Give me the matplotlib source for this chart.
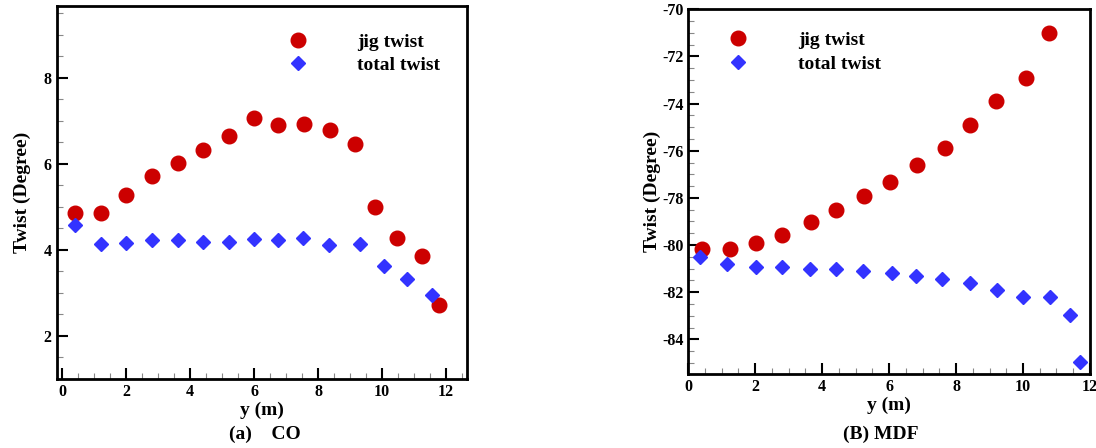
import numpy as np
import matplotlib
matplotlib.use("Agg")
import matplotlib.pyplot as plt
from matplotlib.ticker import MultipleLocator

plt.rcParams['font.family'] = ['Liberation Serif', 'DejaVu Serif']
plt.rcParams['font.weight'] = 'bold'
plt.rcParams['axes.unicode_minus'] = False

# Datos panel (a) CO
co_jig_y = [0.39, 1.22, 1.99, 2.81, 3.61, 4.39, 5.20, 5.99, 6.75, 7.55, 8.37, 9.15, 9.78, 10.47, 11.26, 11.78]
co_jig = [4.87, 4.87, 5.28, 5.71, 6.02, 6.33, 6.66, 7.07, 6.91, 6.92, 6.78, 6.47, 5.00, 4.27, 3.86, 2.71]
co_tot_y = [0.39, 1.22, 1.99, 2.79, 3.61, 4.39, 5.20, 5.99, 6.75, 7.53, 8.34, 9.30, 10.08, 10.78, 11.56]
co_tot = [4.59, 4.14, 4.15, 4.22, 4.22, 4.19, 4.19, 4.26, 4.22, 4.27, 4.12, 4.14, 3.63, 3.32, 2.96]

# Datos panel (B) MDF
mdf_jig_y = [0.41, 1.25, 2.01, 2.80, 3.68, 4.40, 5.25, 6.03, 6.84, 7.66, 8.41, 9.18, 10.09, 10.79]
mdf_jig = [-80.18, -80.18, -79.90, -79.59, -79.01, -78.50, -77.91, -77.31, -76.59, -75.90, -74.89, -73.89, -72.91, -70.99]
mdf_tot_y = [0.35, 1.17, 2.03, 2.81, 3.65, 4.41, 5.21, 6.08, 6.81, 7.58, 8.41, 9.21, 10.01, 10.80, 11.41, 11.71]
mdf_tot = [-80.51, -80.80, -80.92, -80.92, -81.00, -81.00, -81.12, -81.20, -81.31, -81.43, -81.61, -81.91, -82.19, -82.19, -82.98, -84.98]

ROJO = '#cc0000'
AZUL = '#3333ff'

fig = plt.figure(figsize=(10.96, 4.48), dpi=100)
ax1 = fig.add_axes([0.0517, 0.154, 0.374, 0.8326])
ax2 = fig.add_axes([0.628, 0.1652, 0.3665, 0.814])


def panel(ax, xj, yj, xt, yt, xlim, ylim, leg_pos, ylabpad):
    ax.plot(xj, yj, 'o', color=ROJO, ms=10.5, ls='none', label='jig twist')
    ax.plot(xt, yt, 'D', color=AZUL, ms=7, ls='none', label='total twist')
    ax.set_xlim(*xlim)
    ax.set_ylim(*ylim)
    ax.xaxis.set_major_locator(MultipleLocator(2))
    ax.xaxis.set_minor_locator(MultipleLocator(0.5))
    ax.yaxis.set_major_locator(MultipleLocator(2))
    ax.yaxis.set_minor_locator(MultipleLocator(0.5))
    ax.tick_params(which='both', direction='in', top=False, right=False, labelsize=11.5)
    ax.tick_params(which='major', length=8, width=1.5)
    ax.tick_params(which='minor', length=4, width=0.8, color='#888888')
    for s in ax.spines.values():
        s.set_linewidth(2)
    ax.set_xlabel('y (m)', fontsize=14, fontweight='bold', labelpad=1)
    ax.set_ylabel('Twist (Degree)', fontsize=14, fontweight='bold', labelpad=ylabpad)
    ax.legend(loc='upper left', bbox_to_anchor=leg_pos, frameon=False, fontsize=14,
              handletextpad=2.3, handlelength=1.5, labelspacing=0.3, numpoints=1)


panel(ax1, co_jig_y, co_jig, co_tot_y, co_tot, (-0.18, 12.65), (1.0, 9.67), (0.51, 0.974), 9)
panel(ax2, mdf_jig_y, mdf_jig, mdf_tot_y, mdf_tot, (0, 12), (-85.47, -70), (0.045, 0.987), 1)

fig.text(0.242, 0.03, '(a)    CO', ha='center', va='center', fontsize=14, fontweight='bold')
fig.text(0.804, 0.03, '(B) MDF', ha='center', va='center', fontsize=14, fontweight='bold')

fig.savefig('out.png', dpi=100)
